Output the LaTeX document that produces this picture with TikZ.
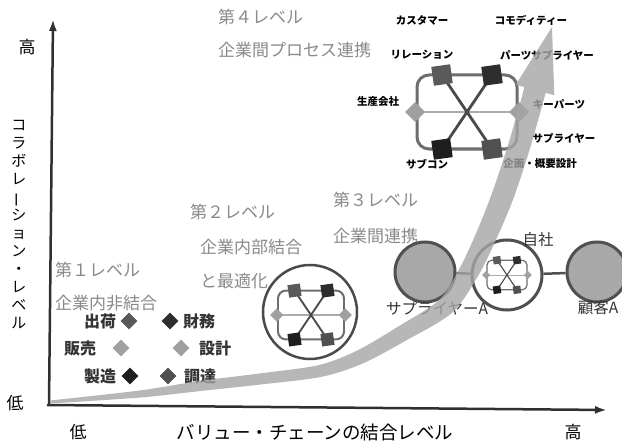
\documentclass[tikz,border=0pt]{standalone}
\usepackage{fontspec}
\newfontfamily\jp{Noto Sans CJK JP}
\usetikzlibrary{shapes.geometric,arrows.meta}
\definecolor{axisc}{HTML}{303030}
\definecolor{lvlc}{HTML}{8A8A8A}
\definecolor{labc}{HTML}{333333}
\definecolor{netline}{HTML}{6E6E6E}
\definecolor{netx}{HTML}{4A4A4A}
\definecolor{sqA}{HTML}{5A5A5A}
\definecolor{sqB}{HTML}{2E2E2E}
\definecolor{sqC}{HTML}{1E1E1E}
\definecolor{sqD}{HTML}{505050}
\definecolor{diac}{HTML}{A0A0A0}
\definecolor{bandc}{HTML}{A6A6A6}
\definecolor{circfill}{HTML}{A8A8A8}
\definecolor{circline}{HTML}{505050}
\newcommand\netw[3]{%
\begin{scope}[shift={(#1,#2)},scale=#3]
 \draw[line width=#3*3pt, draw=netline, rounded corners=#3*12pt] (-50,-37) rectangle (50,37);
 \draw[line width=#3*1.6pt, draw=gray!65] (-52,0) -- (52,0);
 \draw[line width=#3*2.8pt, draw=netx] (-25,-37) -- (25,37) (25,-37) -- (-25,37);
 \fill[sqA, shift={(-25,-37)}, rotate=8] (-9.5,-9.5) rectangle (9.5,9.5);
 \fill[sqB, shift={(25,-37)}, rotate=8] (-9.5,-9.5) rectangle (9.5,9.5);
 \fill[sqC, shift={(-25,37)}, rotate=8] (-9.5,-9.5) rectangle (9.5,9.5);
 \fill[sqD, shift={(25,37)}, rotate=8] (-9.5,-9.5) rectangle (9.5,9.5);
 \fill[diac] (-52,-10) -- (-42,0) -- (-52,10) -- (-62,0) -- cycle;
 \fill[diac] (52,-10) -- (62,0) -- (52,10) -- (42,0) -- cycle;
\end{scope}}
\begin{document}
\begin{tikzpicture}[x=1pt,y=-1pt,
  lvl/.style={font=\jp\fontsize{17}{17}\selectfont, text=lvlc, anchor=west, inner sep=0},
  lab/.style={font=\jp\bfseries\fontsize{16}{16}\selectfont, text=labc, inner sep=0},
  small/.style={font=\jp\bfseries\fontsize{10.5}{10.5}\selectfont, text=black, inner sep=0},
  mid/.style={font=\jp\fontsize{15.5}{15.5}\selectfont, text=labc, inner sep=0},
  axlab/.style={font=\jp\fontsize{17}{17}\selectfont, text=black, inner sep=0},
  dia/.style={diamond, aspect=1, minimum width=17pt, minimum height=17pt, inner sep=0},
  axisline/.style={draw=axisc, line width=2.5pt, -{Latex[length=12pt,width=8pt]}},
  bigcirc/.style={circle, draw=circline, line width=3pt, inner sep=0},
]
\useasboundingbox (0,0) rectangle (622,444);
\fill[white] (0,0) rectangle (622,444);

% axes
\coordinate (yo) at (49,405);
\coordinate (ytop) at (53,19);
\coordinate (xo) at (47,405);
\coordinate (xend) at (607,410);
\draw[axisline] (yo) -- (ytop);
\draw[axisline] (xo) -- (xend);

% axis labels
\node[axlab] (yhi) at (27,47) {高};
\node[axlab] (ylo) at (15,403) {低};
\node[axlab] (xlo) at (78,432) {低};
\node[axlab] (xhi) at (573,432) {高};
\node[font=\jp\fontsize{18.5}{18.5}\selectfont, inner sep=0] (xtitle) at (315,432) {バリュー・チェーンの結合レベル};
\node[font=\jp\fontsize{15}{18}\selectfont, inner sep=0, align=center] (ytitle) at (19,225)
  {コ\\ラ\\ボ\\レ\\\rotatebox[origin=c]{90}{ー}\\シ\\ョ\\ン\\・\\レ\\ベ\\ル};

% level texts
\node[lvl] (l4a) at (218,17) {第４レベル};
\node[lvl] (l4b) at (218,50) {企業間プロセス連携};
\node[lvl] (l2a) at (190,212) {第２レベル};
\node[lvl] (l2b) at (200,247) {企業内部結合};
\node[lvl] (l2c) at (200,281) {と最適化};
\node[lvl] (l1a) at (55,270) {第１レベル};
\node[lvl] (l1b) at (55,303) {企業内非結合};
\node[lvl] (l3a) at (333,200) {第３レベル};
\node[lvl] (l3b) at (333,236) {企業間連携};

% level 1 functions
\node[lab] (shuka) at (100,321) {出荷};
\node[dia, fill=gray!70!black] (d1) at (129,321) {};
\node[dia, fill=sqB] (d2) at (170,321) {};
\node[lab] (zaimu) at (199,321) {財務};
\node[lab] (hanbai) at (80,348) {販売};
\node[dia, fill=diac] (d3) at (121,348) {};
\node[dia, fill=diac] (d4) at (181,348) {};
\node[lab] (sekkei) at (215,348) {設計};
\node[lab] (seizo) at (100,376) {製造};
\node[dia, fill=sqC] (d5) at (130,376) {};
\node[dia, fill=sqD] (d6) at (168,376) {};
\node[lab] (chotatsu) at (200,376) {調達};

% level 2
\node[circle, draw=netx, line width=2.5pt, minimum size=94pt, inner sep=0] (c2) at (310,312) {};
\netw{311}{315}{0.66}

% level 3
\node[bigcirc, fill=circfill, minimum size=60pt] (sup) at (425,272) {};
\node[bigcirc, fill=white, minimum size=70pt] (self) at (507,275) {};
\node[bigcirc, fill=circfill, minimum size=60pt] (cust) at (597,272) {};
\draw[circline, line width=2.5pt] (sup) -- (self);
\draw[circline, line width=2.5pt] (self) -- (cust);
\netw{507}{275}{0.4}
\node[mid] (supl) at (437,308) {サプライヤーA};
\node[mid] (custl) at (598,308) {顧客A};
\node[mid] (selfl) at (538,240) {自社};

% level 4
\netw{467}{112}{1}
\node[small] (n1) at (422,20) {カスタマー};
\node[small] (n2) at (531,20) {コモディティー};
\node[small] (n3) at (422,55) {リレーション};
\node[small] (n4) at (547,55) {パーツサプライヤー};
\node[small] (n5) at (378,102) {生産会社};
\node[small] (n6) at (559,104) {キーパーツ};
\node[small] (n7) at (564,138) {サプライヤー};
\node[small] (n8) at (427,164) {サブコン};
\node[small] (n9) at (540,164) {企画・概要設計};

% big arrow
\fill[bandc, opacity=0.8]
  plot[smooth, tension=0.5] coordinates {(50,400.5) (139.6,390.5) (199.4,381) (259.3,373.5) (318.7,365.1) (357.1,350.6) (398.9,326.1) (439.8,299.4) (461.3,265.1) (478.4,227.8) (492.7,191.2) (507.5,146.7) (520.5,101.8) (524.4,87.1)}
  -- (515.7,84.8) -- (552,27) -- (554.3,95.2) --
  plot[smooth, tension=0.5] coordinates {(545.6,92.9) (541.5,108.2) (528.5,153.3) (513.3,198.8) (497.6,236.2) (478.7,274.9) (452.2,312.6) (407.1,339.9) (362.9,363.4) (321.3,376.9) (260.7,384.5) (200.6,391) (140.4,397.5) (50.1,403.5)}
  -- cycle;
\end{tikzpicture}
\end{document}
